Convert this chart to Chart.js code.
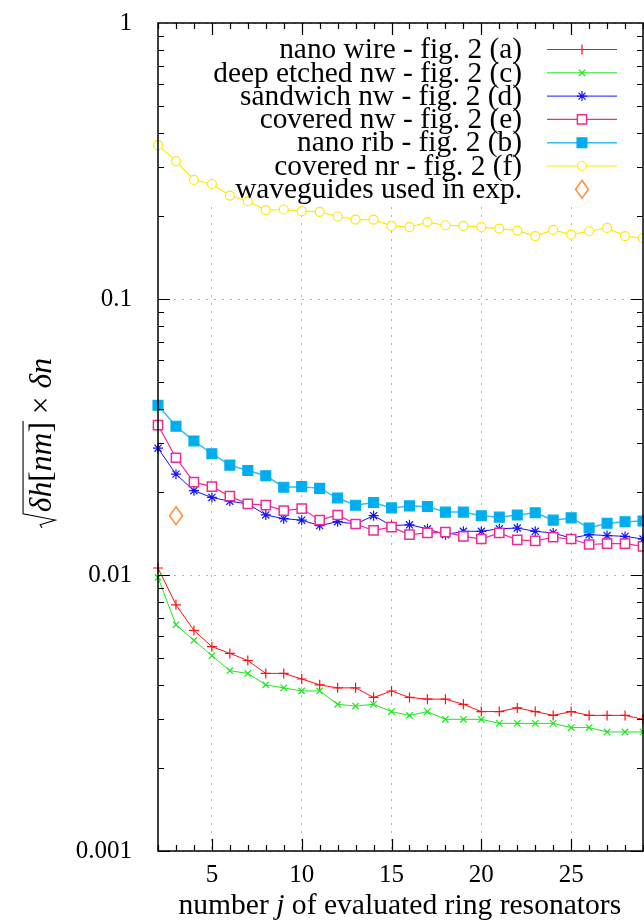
<!DOCTYPE html>
<html>
<head>
<meta charset="utf-8">
<script src="https://cdn.jsdelivr.net/npm/chart.js@4.4.0/dist/chart.umd.min.js"></script>
<style>
  html, body { margin: 0; padding: 0; background: #fff; overflow: hidden; }
  #wrap { width: 644px; height: 923px; }
  canvas { display: block; }
</style>
</head>
<body>
<div id="wrap"><canvas id="chart"></canvas></div>
<script>
  // number of evaluated ring resonators (x)
  const ringCounts = [2, 3, 4, 5, 6, 7, 8, 9, 10, 11, 12, 13, 14, 15, 16, 17, 18, 19, 20, 21, 22, 23, 24, 25, 26, 27, 28, 29];

  // sqrt(dh[nm]) x dn per waveguide type
  const nanoWire = [0.0106, 0.0078, 0.0063, 0.0055, 0.0052, 0.0049, 0.0044, 0.0044, 0.0042, 0.0040, 0.0039, 0.0039, 0.0036, 0.0038,
    0.0036, 0.00355, 0.00355, 0.0034, 0.0032, 0.0032, 0.0033, 0.0032, 0.0031, 0.0032, 0.0031, 0.0031, 0.0031, 0.0030];
  const deepEtchedNw = [0.0098, 0.0066, 0.0058, 0.0051, 0.0045, 0.0044, 0.0040, 0.0039, 0.0038, 0.0038, 0.0034, 0.00335, 0.0034, 0.0032,
    0.0031, 0.0032, 0.0030, 0.0030, 0.0030, 0.0029, 0.0029, 0.0029, 0.0029, 0.0028, 0.0028, 0.0027, 0.0027, 0.0027];
  const sandwichNw = [0.0288, 0.0232, 0.0202, 0.0191, 0.0185, 0.0181, 0.0165, 0.0160, 0.0158, 0.0151, 0.0156, 0.0153, 0.0164, 0.0151,
    0.0152, 0.0147, 0.0140, 0.0144, 0.0144, 0.0147, 0.0148, 0.0144, 0.0142, 0.0136, 0.0140, 0.0139, 0.0138, 0.0135];
  const coveredNw = [0.0349, 0.0266, 0.0217, 0.0209, 0.0193, 0.0181, 0.0179, 0.0171, 0.0174, 0.0158, 0.0165, 0.0153, 0.0145, 0.0149,
    0.0140, 0.0142, 0.0143, 0.0138, 0.0135, 0.0142, 0.0134, 0.0133, 0.0137, 0.0135, 0.0129, 0.0130, 0.0130, 0.0127];
  const nanoRib = [0.0412, 0.0346, 0.0306, 0.0275, 0.0250, 0.0239, 0.0229, 0.0208, 0.0209, 0.0206, 0.0190, 0.0179, 0.0183, 0.0175,
    0.0178, 0.0177, 0.0169, 0.0169, 0.0164, 0.0162, 0.0165, 0.0168, 0.0158, 0.0161, 0.0148, 0.0154, 0.0156, 0.0157];
  const coveredNr = [0.361, 0.316, 0.270, 0.261, 0.237, 0.226, 0.210, 0.211, 0.208, 0.207, 0.199, 0.194, 0.194, 0.184,
    0.182, 0.190, 0.185, 0.184, 0.182, 0.180, 0.177, 0.169, 0.178, 0.171, 0.176, 0.181, 0.169, 0.166];

  // waveguides used in the experiment
  const expRings = [3];
  const expValues = [0.0164];

  const seriesNames = [
    "nano wire - fig. 2 (a)",
    "deep etched nw - fig. 2 (c)",
    "sandwich nw - fig. 2 (d)",
    "covered nw - fig. 2 (e)",
    "nano rib - fig. 2 (b)",
    "covered nr - fig. 2 (f)",
    "waveguides used in exp.",
  ];

  const xTickValues = [5, 10, 15, 20, 25];
  const yTickValues = [0.001, 0.01, 0.1, 1];
  const yTickLabels = ["0.001", "0.01", "0.1", "1"];

  const FONT = '"Liberation Serif", "Times New Roman", serif';

  // elongated open diamond for the experiment marker
  function makeDiamond(color) {
    const c = document.createElement("canvas");
    c.width = 16;
    c.height = 21;
    const g = c.getContext("2d");
    g.strokeStyle = color;
    g.lineWidth = 1.3;
    g.beginPath();
    g.moveTo(8, 1.5);
    g.lineTo(14.5, 10.5);
    g.lineTo(8, 19.5);
    g.lineTo(1.5, 10.5);
    g.closePath();
    g.stroke();
    return c;
  }

  function toPoints(xs, ys) {
    return xs.map((x, i) => ({ x: x, y: ys[i] }));
  }

  function lineSet(i, values, opts) {
    return Object.assign({
      label: seriesNames[i],
      data: toPoints(ringCounts, values),
      borderWidth: 1,
      pointBorderWidth: 1.2,
      tension: 0,
      clip: false,
      order: 10 - i,
    }, opts);
  }

  const datasets = [
    lineSet(0, nanoWire, { borderColor: "#ff1010", pointStyle: "cross", pointRadius: 5 }),
    lineSet(1, deepEtchedNw, { borderColor: "#1ee61e", pointStyle: "crossRot", pointRadius: 4.5 }),
    lineSet(2, sandwichNw, { borderColor: "#1414ff", pointStyle: "star", pointRadius: 5 }),
    lineSet(3, coveredNw, { borderColor: "#ee2a97", pointBackgroundColor: "#fff", pointStyle: "rect", pointRadius: 6.5, pointBorderWidth: 1.5, borderWidth: 1.2 }),
    lineSet(4, nanoRib, { borderColor: "#35bcef", backgroundColor: "#00aeef", pointBackgroundColor: "#00aeef", pointBorderColor: "#00aeef", pointStyle: "rect", pointRadius: 7, borderWidth: 1.5 }),
    lineSet(5, coveredNr, { borderColor: "#ffea00", pointBackgroundColor: "#fff", pointStyle: "circle", pointRadius: 4.5, borderWidth: 1.2 }),
    {
      label: seriesNames[6],
      data: toPoints(expRings, expValues),
      showLine: false,
      borderColor: "#ff7f1e",
      pointStyle: makeDiamond("#ff7f1e"),
      pointRadius: 9,
      clip: false,
      order: 0,
    },
  ];

  function fitSize(ctx, text, style, width) {
    ctx.font = style + " 100px " + FONT;
    return 100 * width / ctx.measureText(text).width;
  }

  // pin the plot box to the reference frame
  const plotBox = {
    id: "plotBox",
    afterLayout(chart) {
      const a = chart.chartArea;
      a.left = 158; a.right = 643; a.top = 23; a.bottom = 851;
      a.width = a.right - a.left; a.height = a.bottom - a.top;
      const x = chart.scales.x, y = chart.scales.y;
      x.left = a.left; x.right = a.right; x.width = a.width;
      x.top = a.bottom; x.bottom = 923; x.height = 923 - a.bottom;
      y.top = a.top; y.bottom = a.bottom; y.height = a.height;
      y.left = 0; y.right = a.left; y.width = a.left;
      x.configure(); y.configure();
    },
  };

  // frame, inward ticks, key and axis titles
  const decorations = {
    id: "decorations",
    beforeDatasetsDraw(chart) {
      const { ctx, chartArea: a } = chart;
      ctx.save();
      ctx.fillStyle = "#fff";
      ctx.fillRect(200, a.top + 1, a.right - 201, 177);
      ctx.restore();
    },
    afterDraw(chart) {
      const { ctx, chartArea: a, scales } = chart;
      const x = scales.x, y = scales.y;
      ctx.save();

      // inward tick marks
      ctx.strokeStyle = "#000";
      ctx.lineWidth = 1.2;
      ctx.beginPath();
      for (let v = Math.ceil(x.min); v <= x.max; v++) {
        const len = v % 5 === 0 ? 12 : 6;
        const px = Math.round(x.getPixelForValue(v)) + 0.5;
        ctx.moveTo(px, a.bottom); ctx.lineTo(px, a.bottom - len);
        ctx.moveTo(px, a.top); ctx.lineTo(px, a.top + len);
      }
      for (let e = -3; e < 0; e++) {
        for (let k = 1; k <= 9; k++) {
          const v = k * Math.pow(10, e);
          const len = k === 1 ? 12 : 6;
          const py = Math.round(y.getPixelForValue(v)) + 0.5;
          ctx.moveTo(a.left, py); ctx.lineTo(a.left + len, py);
          ctx.moveTo(a.right, py); ctx.lineTo(a.right - len, py);
        }
      }
      ctx.stroke();

      // frame
      ctx.lineWidth = 1.5;
      ctx.strokeRect(a.left, a.top, a.right - a.left, a.bottom - a.top);

      // key
      const keySize = fitSize(ctx, seriesNames[6], "", 287);
      ctx.font = keySize + "px " + FONT;
      ctx.textAlign = "right";
      ctx.textBaseline = "middle";
      chart.data.datasets.forEach((ds, i) => {
        const ry = 49.5 + i * 23.3;
        ctx.fillStyle = "#000";
        ctx.fillText(ds.label, 522, ry + 1);
        if (ds.showLine !== false) {
          ctx.strokeStyle = ds.borderColor;
          ctx.lineWidth = ds.borderWidth;
          ctx.beginPath();
          ctx.moveTo(547, ry); ctx.lineTo(617, ry);
          ctx.stroke();
        }
        ctx.strokeStyle = ds.pointBorderColor || ds.borderColor;
        ctx.fillStyle = ds.pointBackgroundColor || "rgba(0,0,0,0)";
        ctx.lineWidth = ds.pointBorderWidth || 1;
        Chart.helpers.drawPoint(ctx, {
          pointStyle: ds.pointStyle, radius: ds.pointRadius, rotation: 0, borderWidth: ds.pointBorderWidth || 1,
        }, 582, ry);
      });

      // x title: number j of evaluated ring resonators
      const xParts = [["number ", ""], ["j", "italic"], [" of evaluated ring resonators", ""]];
      let w100 = 0;
      xParts.forEach(p => { ctx.font = p[1] + " 100px " + FONT; w100 += ctx.measureText(p[0]).width; });
      const xs = 100 * 443 / w100;
      let cx = 400 - 443 / 2;
      ctx.fillStyle = "#000";
      ctx.textAlign = "left";
      ctx.textBaseline = "alphabetic";
      xParts.forEach(p => {
        ctx.font = p[1] + " " + xs + "px " + FONT;
        ctx.fillText(p[0], cx, 914);
        cx += ctx.measureText(p[0]).width;
      });

      // y title: sqrt(dh[nm]) x dn
      const inner = [["δh", "italic"], ["[", ""], ["nm", "italic"], ["]", ""]];
      const tail = [[" × ", ""], ["δn", "italic"]];
      const measure = (parts, s) => parts.reduce((acc, p) => {
        ctx.font = p[1] + " " + s + "px " + FONT;
        return acc + ctx.measureText(p[0]).width;
      }, 0);
      const base = 100;
      const total100 = 0.5 * base + measure(inner, base) + measure(tail, base);
      const s = base * 170 / total100;
      const innerW = measure(inner, s);
      const totalW = 0.5 * s + innerW + measure(tail, s);
      ctx.translate(42, 443);
      ctx.rotate(-Math.PI / 2);
      const x0 = -totalW / 2;
      const bl = s * 0.3;
      ctx.strokeStyle = "#000";
      ctx.lineWidth = 1.1;
      ctx.beginPath();
      ctx.moveTo(x0, bl - 0.3 * s);
      ctx.lineTo(x0 + 0.1 * s, bl - 0.36 * s);
      ctx.lineTo(x0 + 0.25 * s, bl + 0.12 * s);
      ctx.lineTo(x0 + 0.45 * s, bl - 0.9 * s);
      ctx.lineTo(x0 + 0.5 * s + innerW + 1, bl - 0.9 * s);
      ctx.stroke();
      let tx = x0 + 0.5 * s;
      inner.concat(tail).forEach(p => {
        ctx.font = p[1] + " " + s + "px " + FONT;
        ctx.fillText(p[0], tx, bl);
        tx += ctx.measureText(p[0]).width;
      });

      ctx.restore();
    },
  };

  new Chart(document.getElementById("chart"), {
    type: "line",
    data: { datasets: datasets },
    plugins: [plotBox, decorations],
    options: {
      responsive: true,
      maintainAspectRatio: false,
      animation: false,
      events: [],
      layout: { padding: { top: 23, right: 1, left: 0, bottom: 0 } },
      plugins: { legend: { display: false }, tooltip: { enabled: false } },
      scales: {
        x: {
          type: "linear",
          min: 2,
          max: 29,
          afterBuildTicks: (scale) => { scale.ticks = xTickValues.map(v => ({ value: v })); },
          afterFit: (scale) => {
            scale.height = 72;
            scale.paddingLeft = 0; scale.paddingRight = 0;
            scale.paddingTop = 0; scale.paddingBottom = 0;
          },
          ticks: { font: { family: FONT, size: 25 }, color: "#000", padding: 9, maxRotation: 0, autoSkip: false },
          grid: { color: "#b4b4b4", lineWidth: 1, drawTicks: false },
          border: { display: false, dash: [2, 6] },
        },
        y: {
          type: "logarithmic",
          min: 0.001,
          max: 1,
          afterBuildTicks: (scale) => { scale.ticks = yTickValues.map(v => ({ value: v })); },
          afterFit: (scale) => {
            scale.width = 158;
            scale.paddingLeft = 0; scale.paddingRight = 0;
            scale.paddingTop = 0; scale.paddingBottom = 0;
          },
          ticks: {
            font: { family: FONT, size: 25 }, color: "#000", padding: 26, autoSkip: false,
            callback: (v, i) => yTickLabels[i],
          },
          grid: { color: "#b4b4b4", lineWidth: 1, drawTicks: false },
          border: { display: false, dash: [2, 6] },
        },
      },
    },
  });
</script>
</body>
</html>
